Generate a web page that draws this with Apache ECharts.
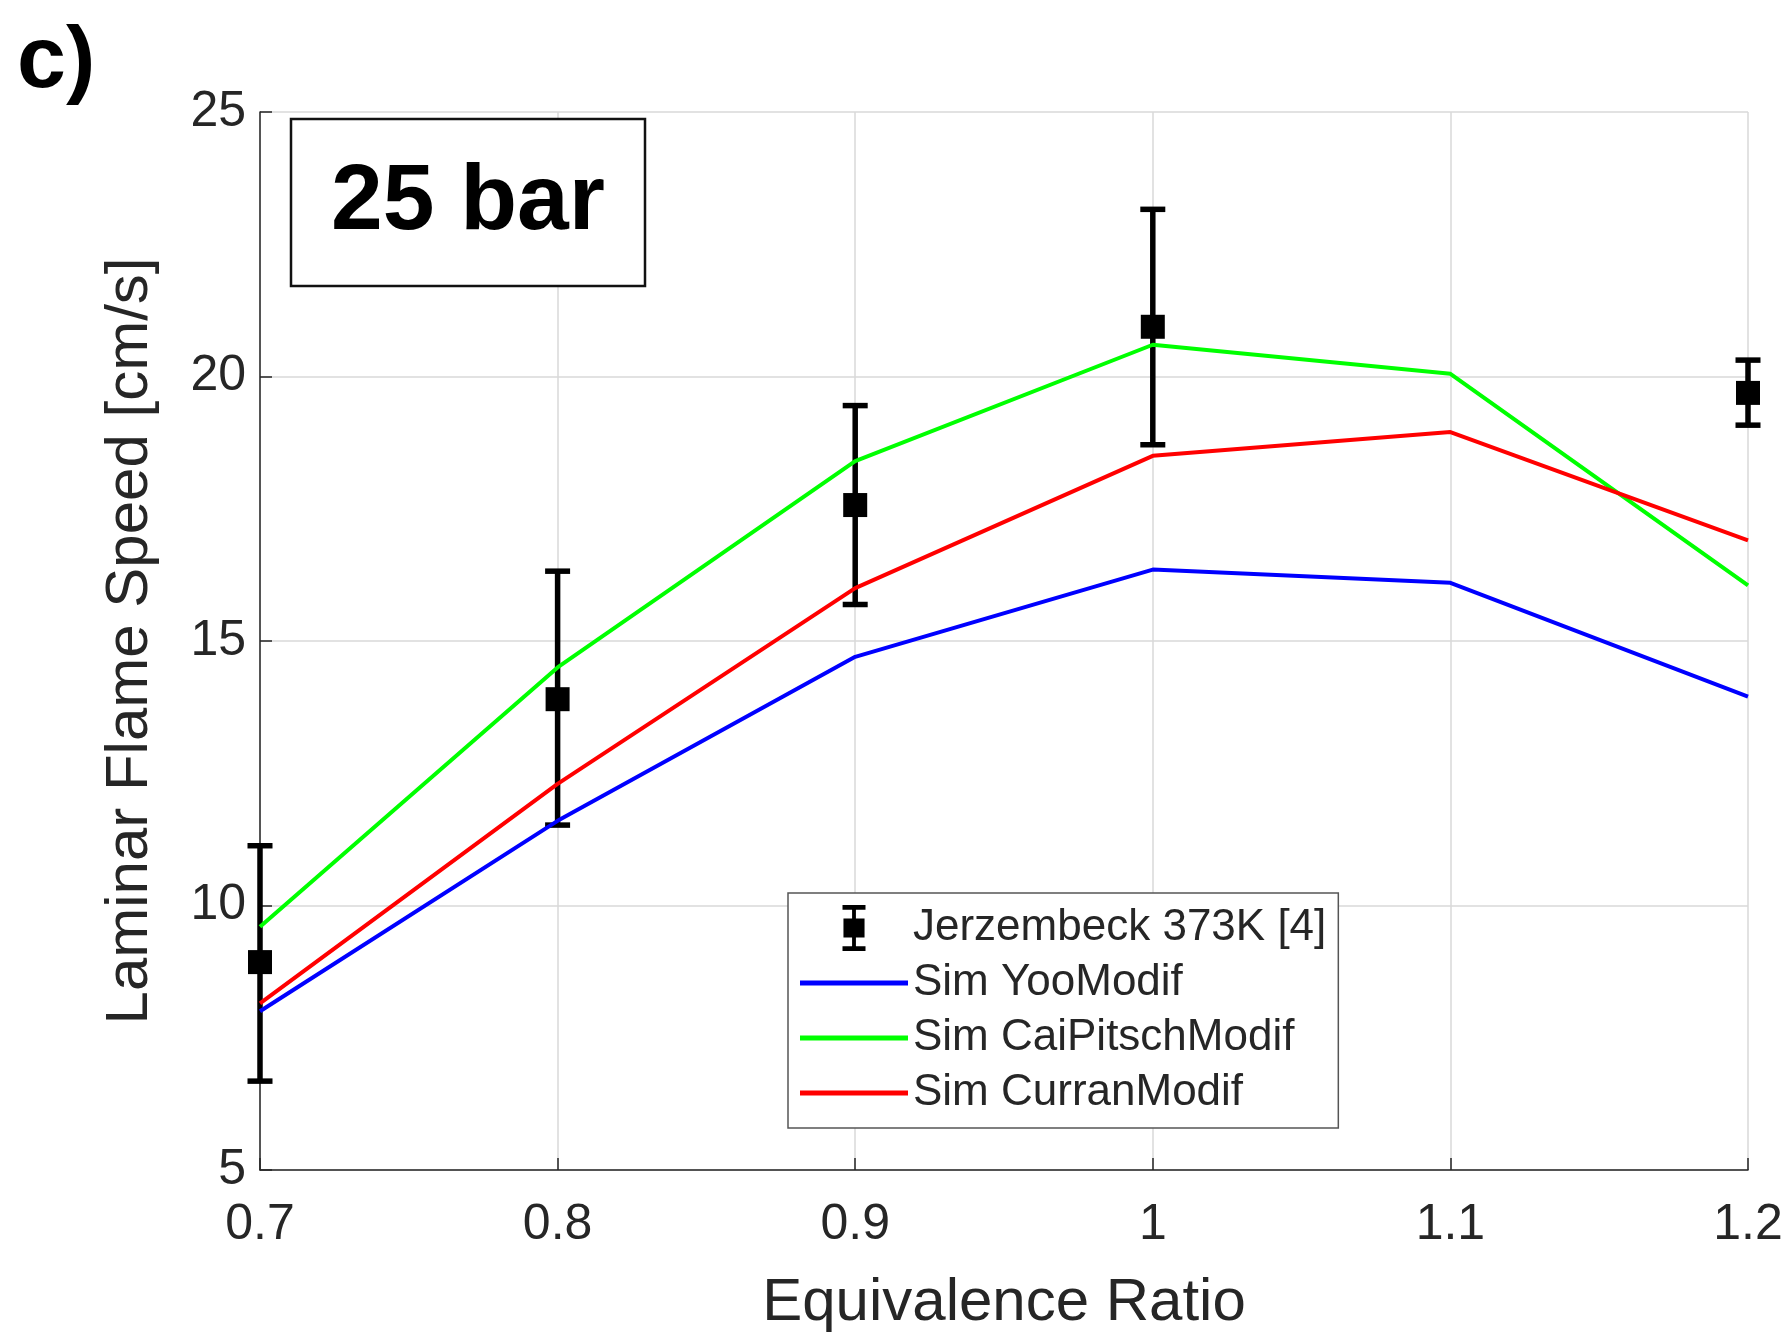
<!DOCTYPE html>
<html>
<head>
<meta charset="utf-8">
<script src="https://cdn.jsdelivr.net/npm/echarts@6/dist/echarts.min.js"></script>
<style>html,body{margin:0;padding:0;background:#fff;}#chart{width:1791px;height:1333px;}</style>
</head>
<body>
<div id="chart"></div>
<script>
const phi = [0.7, 0.8, 0.9, 1.0, 1.1, 1.2];
const yooModif = [8.0, 11.6, 14.7, 16.35, 16.1, 13.95];
const caiPitschModif = [9.6, 14.5, 18.4, 20.6, 20.05, 16.05];
const curranModif = [8.15, 12.3, 16.0, 18.5, 18.95, 16.9];
const expPhi = [0.7, 0.8, 0.9, 1.0, 1.2];
const expSpeed = [8.93, 13.9, 17.57, 20.94, 19.69];
const expLow = [6.68, 11.52, 15.69, 18.71, 19.08];
const expHigh = [11.13, 16.32, 19.45, 23.16, 20.31];

const FONT = '"Liberation Sans", Arial, sans-serif';
const TXT = '#262626';
const EXP = 'Jerzembeck 373K [4]';
const LINE_ICON = 'path://M0,0H108V5H0Z';

const chart = echarts.init(document.getElementById('chart'));
const pair = (xs, ys) => xs.map((x, i) => [x, ys[i]]);

chart.setOption({
  animation: false,
  backgroundColor: '#fff',
  grid: { left: 260, right: 43, top: 112, bottom: 163, containLabel: false, outerBoundsMode: 'none' },
  xAxis: {
    type: 'value', min: 0.7, max: 1.2, interval: 0.1,
    name: 'Equivalence Ratio', nameLocation: 'middle', nameGap: 103,
    nameTextStyle: { fontFamily: FONT, fontSize: 60, color: TXT },
    axisLine: { show: true, lineStyle: { color: TXT, width: 1.5 } },
    axisTick: { show: true, inside: true, length: 12, lineStyle: { color: TXT, width: 1.5 } },
    axisLabel: { fontFamily: FONT, fontSize: 50, color: TXT, margin: 30,
      formatter: v => String(Number(v.toFixed(1))) },
    splitLine: { show: true, lineStyle: { color: '#d8d8d8', width: 1.5 } }
  },
  yAxis: {
    type: 'value', min: 5, max: 25, interval: 5,
    name: 'Laminar Flame Speed [cm/s]', nameLocation: 'middle', nameGap: 100,
    nameTextStyle: { fontFamily: FONT, fontSize: 60, color: TXT },
    axisLine: { show: true, lineStyle: { color: TXT, width: 1.5 } },
    axisTick: { show: true, inside: true, length: 12, lineStyle: { color: TXT, width: 1.5 } },
    axisLabel: { fontFamily: FONT, fontSize: 50, color: TXT, margin: 14 },
    splitLine: { show: true, lineStyle: { color: '#d8d8d8', width: 1.5 } }
  },
  legend: {
    orient: 'vertical', left: 788, top: 893,
    backgroundColor: '#fff', borderColor: '#555', borderWidth: 1.5,
    padding: [10, 12, 10, 12],
    itemWidth: 108, itemHeight: 46, itemGap: 5,
    textStyle: { fontFamily: FONT, fontSize: 44, color: TXT, lineHeight: 50 },
    data: [
      { name: EXP, icon: 'path://M0,0H12V2.5H7V7H11.5V17H7V21.5H12V24H0V21.5H5V17H0.5V7H5V2.5H0Z' },
      { name: 'Sim YooModif', icon: LINE_ICON },
      { name: 'Sim CaiPitschModif', icon: LINE_ICON },
      { name: 'Sim CurranModif', icon: LINE_ICON }
    ]
  },
  graphic: [
    { type: 'text', left: 17, top: 19, style: { text: 'c)', font: 'bold 88px ' + FONT, fill: '#000' } },
    { type: 'rect', shape: { x: 291, y: 119, width: 354, height: 167 }, style: { fill: '#fff', stroke: '#111', lineWidth: 2.5 }, z: 10 },
    { type: 'text', x: 468, y: 203, style: { text: '25 bar', font: 'bold 93px ' + FONT, fill: '#000', align: 'center', verticalAlign: 'middle' }, z: 11 }
  ],
  series: [
    {
      name: EXP, type: 'custom', clip: false, itemStyle: { color: '#000' },
      encode: { x: 0, y: [1, 2] },
      data: expPhi.map((p, i) => [p, expLow[i], expHigh[i]]),
      renderItem: function (params, api) {
        const x = api.value(0);
        const lo = api.coord([x, api.value(1)]);
        const hi = api.coord([x, api.value(2)]);
        const hw = 12.5;
        const st = { stroke: '#000', lineWidth: 5.5 };
        return {
          type: 'group', children: [
            { type: 'line', shape: { x1: hi[0], y1: hi[1], x2: lo[0], y2: lo[1] }, style: st },
            { type: 'line', shape: { x1: hi[0] - hw, y1: hi[1], x2: hi[0] + hw, y2: hi[1] }, style: st },
            { type: 'line', shape: { x1: lo[0] - hw, y1: lo[1], x2: lo[0] + hw, y2: lo[1] }, style: st }
          ]
        };
      }
    },
    {
      name: EXP, type: 'scatter', symbol: 'rect', symbolSize: 24, clip: false,
      itemStyle: { color: '#000', opacity: 1 }, data: pair(expPhi, expSpeed)
    },
    { name: 'Sim YooModif', type: 'line', symbol: 'none', data: pair(phi, yooModif),
      lineStyle: { color: '#0000ff', width: 4 }, itemStyle: { color: '#0000ff' } },
    { name: 'Sim CaiPitschModif', type: 'line', symbol: 'none', data: pair(phi, caiPitschModif),
      lineStyle: { color: '#00ff00', width: 4 }, itemStyle: { color: '#00ff00' } },
    { name: 'Sim CurranModif', type: 'line', symbol: 'none', data: pair(phi, curranModif),
      lineStyle: { color: '#ff0000', width: 4 }, itemStyle: { color: '#ff0000' } }
  ]
});
</script>
</body>
</html>
